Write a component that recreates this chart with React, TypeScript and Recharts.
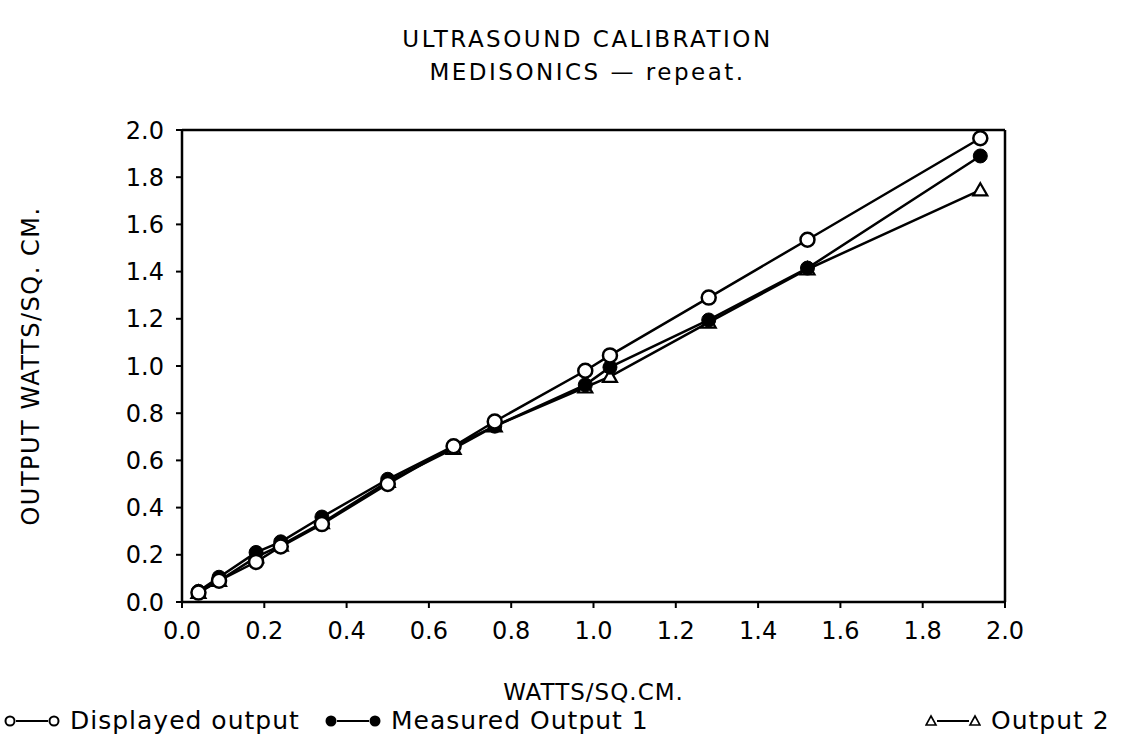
import React from 'react';
import { LineChart, Line, XAxis, YAxis, ReferenceLine } from 'recharts';

const xValues = [0.04, 0.09, 0.18, 0.24, 0.34, 0.5, 0.66, 0.76, 0.98, 1.04, 1.28, 1.52, 1.94];
const displayedOutput = [0.04, 0.09, 0.17, 0.235, 0.33, 0.5, 0.66, 0.765, 0.98, 1.045, 1.29, 1.535, 1.965];
const measuredOutput1 = [0.045, 0.105, 0.21, 0.255, 0.36, 0.52, 0.66, 0.745, 0.92, 0.995, 1.195, 1.415, 1.89];
const output2 = [0.04, 0.09, 0.19, 0.24, 0.335, 0.51, 0.65, 0.745, 0.91, 0.955, 1.185, 1.41, 1.745];
const axisTicks = [0, 0.2, 0.4, 0.6, 0.8, 1.0, 1.2, 1.4, 1.6, 1.8, 2.0];

const titleLines = ['ULTRASOUND CALIBRATION', 'MEDISONICS \u2014 repeat.'];
const xLabel = 'WATTS/SQ.CM.';
const yLabel = 'OUTPUT WATTS/SQ. CM.';

const data = xValues.map((x, i) => ({
  x,
  displayed: displayedOutput[i],
  measured1: measuredOutput1[i],
  output2: output2[i],
}));

const FONT = '"DejaVu Sans", sans-serif';

const TriangleDot = (props: any) => {
  const { cx, cy, index } = props;
  if (cx == null || cy == null) return <g key={`t${index}`} />;
  const s = 7;
  return (
    <path
      key={`t${index}`}
      d={`M${cx},${cy - s} L${cx + s},${cy + s * 0.75} L${cx - s},${cy + s * 0.75} Z`}
      fill="#fff"
      stroke="#000"
      strokeWidth={2.2}
    />
  );
};

const legendItems = [
  { label: 'Displayed output', kind: 'open', left: 4 },
  { label: 'Measured Output 1', kind: 'filled', left: 325 },
  { label: 'Output 2', kind: 'tri', left: 925 },
];

const Sym = ({ kind }: { kind: string }) => {
  const mk = (cx: number) =>
    kind === 'open' ? (
      <circle cx={cx} cy={10} r={4.5} fill="#fff" stroke="#000" strokeWidth={2} />
    ) : kind === 'filled' ? (
      <circle cx={cx} cy={10} r={5.5} fill="#000" />
    ) : (
      <path d={`M${cx},5 L${cx + 5},14 L${cx - 5},14 Z`} fill="#fff" stroke="#000" strokeWidth={1.6} />
    );
  return (
    <svg width={56} height={20} style={{ display: 'inline-block', verticalAlign: 'middle' }}>
      {mk(6)}
      <line x1={12} y1={10} x2={44} y2={10} stroke="#000" strokeWidth={2} />
      {mk(50)}
    </svg>
  );
};

export default function App() {
  return (
    <div style={{ position: 'absolute', left: 0, top: 0, width: 1129, height: 745, background: '#fff' }}>
      <div
        style={{
          position: 'absolute',
          left: 0,
          top: 23,
          width: 1175,
          textAlign: 'center',
          fontFamily: FONT,
          fontSize: 23,
          lineHeight: '33px',
          letterSpacing: 2.5,
          color: '#000',
        }}
      >
        {titleLines.map((t) => (
          <div key={t}>{t}</div>
        ))}
      </div>
      <LineChart
        width={1129}
        height={745}
        data={data}
        margin={{ top: 130, right: 124, bottom: 83, left: 82 }}
      >
        <XAxis
          dataKey="x"
          type="number"
          domain={[0, 2]}
          ticks={axisTicks}
          tickFormatter={(v: number) => v.toFixed(1)}
          height={60}
          axisLine={{ stroke: '#000', strokeWidth: 2.5 }}
          tickLine={{ stroke: '#000', strokeWidth: 2 }}
          tickSize={6}
          tickMargin={14}
          tick={{ fill: '#000', fontSize: 24, fontFamily: FONT }}
          label={{ value: xLabel, position: 'bottom', offset: 22, fill: '#000', fontSize: 23, fontFamily: FONT, letterSpacing: 1 }}
        />
        <YAxis
          type="number"
          domain={[0, 2]}
          ticks={axisTicks}
          tickFormatter={(v: number) => v.toFixed(1)}
          width={100}
          axisLine={{ stroke: '#000', strokeWidth: 2.5 }}
          tickLine={{ stroke: '#000', strokeWidth: 2 }}
          tickSize={6}
          tickMargin={12}
          tick={{ fill: '#000', fontSize: 24, fontFamily: FONT }}
          label={{ value: yLabel, angle: -90, position: 'left', offset: 52, fill: '#000', fontSize: 24, fontFamily: FONT, letterSpacing: 1.5, style: { textAnchor: 'middle' } }}
        />
        <ReferenceLine y={2} stroke="#000" strokeWidth={2.5} ifOverflow="extendDomain" />
        <ReferenceLine x={2} stroke="#000" strokeWidth={2.5} ifOverflow="extendDomain" />
        <Line
          dataKey="output2"
          stroke="#000"
          strokeWidth={2.5}
          dot={TriangleDot}
          activeDot={false}
          isAnimationActive={false}
          legendType="none"
        />
        <Line
          dataKey="measured1"
          stroke="#000"
          strokeWidth={2.5}
          dot={{ r: 7, fill: '#000', stroke: '#000', strokeWidth: 1 }}
          activeDot={false}
          isAnimationActive={false}
          legendType="none"
        />
        <Line
          dataKey="displayed"
          stroke="#000"
          strokeWidth={2.5}
          dot={{ r: 7, fill: '#fff', stroke: '#000', strokeWidth: 2.5 }}
          activeDot={false}
          isAnimationActive={false}
          legendType="none"
        />
      </LineChart>
      <div style={{ position: 'absolute', left: 0, top: 705, width: 1129, height: 34, fontFamily: FONT, fontSize: 25, letterSpacing: 1, color: '#000' }}>
        {legendItems.map((it) => (
          <div key={it.label} style={{ position: 'absolute', left: it.left, top: 0, whiteSpace: 'nowrap', lineHeight: '30px' }}>
            <Sym kind={it.kind} />
            <span style={{ marginLeft: 10, verticalAlign: 'middle' }}>{it.label}</span>
          </div>
        ))}
      </div>
    </div>
  );
}
